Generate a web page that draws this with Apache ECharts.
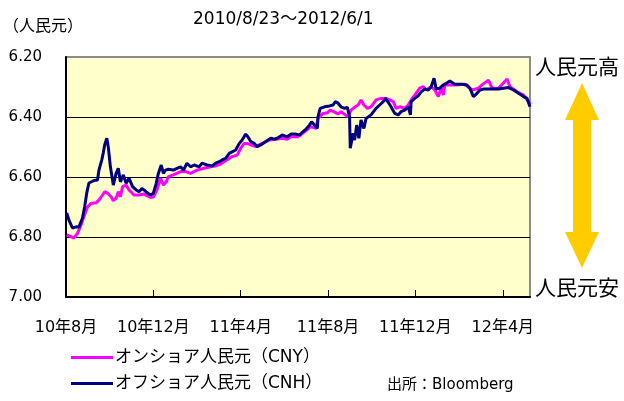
<!DOCTYPE html>
<html>
<head>
<meta charset="utf-8">
<script src="https://cdn.jsdelivr.net/npm/echarts@6/dist/echarts.min.js"></script>
<style>
html,body{margin:0;padding:0;background:#fff;}
#c{width:624px;height:401px;}
</style>
</head>
<body>
<div id="c"></div>
<script>
// Days since 2010/8/23 and CNY / CNH rates (yuan per USD)
const cnyDays = [1,7,11,16,21,25,30,35,42,46,51,54,58,63,66,70,73,76,79,84,88,95,102,109,118,122,127,132,136,140,143,150,160,167,174,183,193,202,209,216,223,232,239,244,249,253,258,265,274,284,293,302,309,314,324,333,342,349,352,359,365,369,374,380,384,390,394,398,404,408,412,416,421,426,433,440,447,452,457,461,466,473,478,482,487,494,499,503,510,515,520,524,527,529,543,557,567,576,581,590,595,604,616,620,630,639,646,648];
const cnyValues = [6.793,6.799,6.804,6.788,6.760,6.732,6.700,6.688,6.686,6.677,6.660,6.649,6.654,6.666,6.679,6.671,6.649,6.666,6.632,6.627,6.643,6.660,6.660,6.657,6.668,6.667,6.643,6.604,6.627,6.616,6.599,6.593,6.582,6.582,6.588,6.577,6.571,6.566,6.563,6.557,6.546,6.532,6.527,6.504,6.488,6.488,6.493,6.499,6.488,6.477,6.474,6.471,6.474,6.466,6.466,6.449,6.432,6.438,6.404,6.388,6.386,6.377,6.382,6.390,6.382,6.393,6.399,6.377,6.366,6.360,6.343,6.360,6.371,6.366,6.343,6.338,6.338,6.343,6.349,6.371,6.366,6.371,6.360,6.343,6.327,6.304,6.299,6.310,6.299,6.310,6.332,6.304,6.327,6.293,6.293,6.291,6.310,6.304,6.293,6.277,6.304,6.304,6.273,6.299,6.316,6.327,6.349,6.358];
const cnhDays = [1,4,9,14,18,23,26,29,32,39,44,46,50,52,54,57,59,62,65,66,70,73,76,80,84,88,93,98,102,106,109,113,118,122,126,129,133,136,139,143,150,155,160,164,169,174,179,186,190,197,204,209,214,218,223,228,232,237,242,246,251,254,258,263,267,272,279,286,291,295,302,309,314,321,326,331,335,340,343,347,351,352,355,361,368,373,376,380,384,389,393,396,397,401,403,406,409,412,416,419,426,433,438,443,446,450,454,459,464,468,473,478,481,482,487,492,496,501,506,510,514,517,522,527,531,536,543,553,560,564,569,574,578,583,590,597,604,611,618,625,632,639,644,648];
const cnhValues = [6.720,6.743,6.770,6.766,6.767,6.737,6.700,6.653,6.620,6.612,6.610,6.577,6.543,6.520,6.493,6.471,6.499,6.566,6.610,6.627,6.588,6.571,6.616,6.593,6.621,6.604,6.632,6.643,6.649,6.638,6.643,6.652,6.660,6.654,6.621,6.588,6.560,6.588,6.577,6.574,6.577,6.571,6.566,6.577,6.554,6.566,6.560,6.566,6.554,6.560,6.563,6.554,6.549,6.543,6.538,6.521,6.516,6.510,6.488,6.477,6.457,6.466,6.482,6.488,6.499,6.493,6.482,6.471,6.474,6.471,6.460,6.466,6.457,6.457,6.460,6.449,6.441,6.427,6.416,6.427,6.438,6.399,6.371,6.366,6.363,6.360,6.349,6.354,6.366,6.371,6.368,6.399,6.504,6.454,6.477,6.427,6.471,6.410,6.438,6.405,6.393,6.371,6.360,6.349,6.338,6.351,6.366,6.388,6.393,6.382,6.377,6.366,6.393,6.349,6.338,6.329,6.316,6.307,6.310,6.299,6.271,6.307,6.304,6.293,6.288,6.280,6.291,6.291,6.293,6.304,6.332,6.321,6.310,6.307,6.307,6.307,6.307,6.304,6.302,6.310,6.321,6.332,6.338,6.366];
const xTickLabels = ['10年8月','10年12月','11年4月','11年8月','11年12月','12年4月'];
const xTickStep = 122;      // days between labelled ticks
const xMaxDay = 648;        // 2012/6/1
const yTicks = [6.2, 6.4, 6.6, 6.8, 7.0];
const seriesNames = ['オンショア人民元（CNY）', 'オフショア人民元（CNH）'];
const titleText = '2010/8/23～2012/6/1';
const unitText = '（人民元）';
const sourceText = '出所：Bloomberg';

const FONT = '"DejaVu Sans", "Noto Sans CJK JP", sans-serif';
const zip = (a, b) => a.map((d, i) => [d, b[i]]);

const chart = echarts.init(document.getElementById('c'), null, {renderer: 'canvas'});
chart.setOption({
  animation: false,
  backgroundColor: '#ffffff',
  textStyle: {fontFamily: FONT, color: '#000'},
  grid: {left: 66, top: 57, width: 464, height: 240, show: true,
         backgroundColor: '#FFFFCC', borderColor: '#8c8c8c', borderWidth: 2},
  legend: {
    orient: 'vertical', left: 66, top: 344, itemGap: 9,
    icon: 'rect', itemWidth: 42, itemHeight: 3,
    textStyle: {fontFamily: FONT, fontSize: 17, color: '#000', padding: [0,0,0,-3]},
    data: seriesNames
  },
  xAxis: {
    type: 'value', min: 0, max: xMaxDay, interval: xTickStep,
    axisLine: {show: true, lineStyle: {color: '#000', width: 2}},
    axisTick: {show: true, inside: true, length: 7, lineStyle: {color: '#000', width: 1}},
    splitLine: {show: false},
    axisLabel: {
      margin: 23, fontSize: 16, color: '#000', fontFamily: FONT,
      showMaxLabel: false,
      formatter: v => (v % xTickStep === 0 ? (xTickLabels[v / xTickStep] || '') : '')
    }
  },
  yAxis: {
    type: 'value', inverse: true, min: yTicks[0], max: yTicks[yTicks.length - 1], interval: 0.2,
    axisLine: {show: true, onZero: false, lineStyle: {color: '#000', width: 2}},
    axisTick: {show: false},
    splitLine: {show: true, lineStyle: {color: ['#8c8c8c', '#000', '#000', '#000', '#000'], width: 1}},
    axisLabel: {margin: 24, fontSize: 15, color: '#000', fontFamily: FONT,
                formatter: v => v.toFixed(2)}
  },
  series: [
    {name: seriesNames[0], type: 'line', data: zip(cnyDays, cnyValues), showSymbol: false,
     symbol: 'none', lineStyle: {color: '#FF00FF', width: 3}, itemStyle: {color: '#FF00FF'}, z: 2},
    {name: seriesNames[1], type: 'line', data: zip(cnhDays, cnhValues), showSymbol: false,
     symbol: 'none', lineStyle: {color: '#000080', width: 3}, itemStyle: {color: '#000080'}, z: 3}
  ],
  graphic: [
    {type: 'text', left: 3, top: 19, style: {text: unitText, font: '16px ' + FONT, fill: '#000'}},
    {type: 'text', left: 193, top: 11, style: {text: titleText, font: '17px ' + FONT, fill: '#000'}},
    {type: 'text', left: 535, top: 58, style: {text: '人民元高', font: '21px ' + FONT, fill: '#000'}},
    {type: 'text', left: 535, top: 279, style: {text: '人民元安', font: '21px ' + FONT, fill: '#000'}},
    {type: 'text', left: 387, top: 378, style: {text: sourceText, font: '15px ' + FONT, fill: '#000'}},
    {type: 'polygon', shape: {points: [
      [582, 83], [599, 120], [591, 120], [591, 232], [599, 232], [582, 268],
      [565, 232], [573, 232], [573, 120], [565, 120]]},
     style: {fill: '#FFCC00', stroke: null}}
  ]
});
</script>
</body>
</html>
